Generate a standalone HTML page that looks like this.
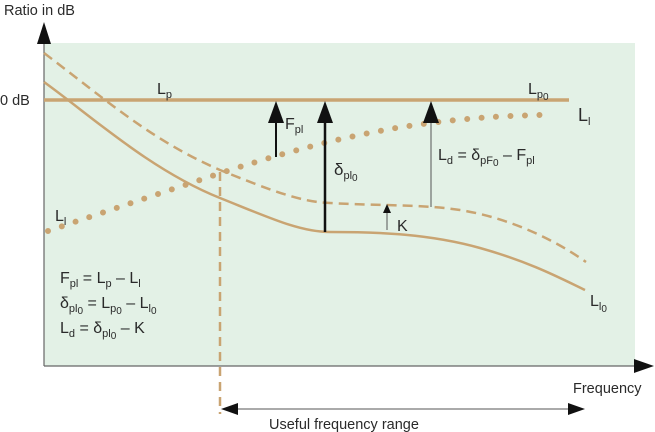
<!DOCTYPE html>
<html><head><meta charset="utf-8"><style>
html,body{margin:0;padding:0;background:#fff;}
svg{display:block;font-family:"Liberation Sans","DejaVu Sans",sans-serif;}
text{fill:#2a2a2a;}
</style></head><body>
<svg width="655" height="432" viewBox="0 0 655 432" xmlns="http://www.w3.org/2000/svg">
<rect x="44" y="43" width="591" height="323" fill="#e3f1e6"/>
<line x1="44" y1="30" x2="44" y2="366" stroke="#666" stroke-width="1.2"/>
<polygon points="44,22 37,44 51,44" fill="#111"/>
<line x1="44" y1="366" x2="636" y2="366" stroke="#666" stroke-width="1.2"/>
<polygon points="654,366 634,359 634,373" fill="#111"/>
<line x1="44" y1="100" x2="569" y2="100" stroke="#c9a472" stroke-width="3.5"/>
<path d="M44,82 C90,115 150,170 220,198 C270,218 300,232 330,232 C380,232 430,234 480,248 C530,262 560,278 585,290" fill="none" stroke="#c9a472" stroke-width="2.5"/>
<path d="M44,53 C100,95 150,140 220,170 C270,190 300,202 330,203 C380,206 420,204 460,210 C510,218 555,240 586,262" fill="none" stroke="#c9a472" stroke-width="2.5" stroke-dasharray="10,6"/>
<path d="M48,231 C110,210 170,190 230,170 C300,148 360,132 430,123 C470,118 500,116 540,115" fill="none" stroke="#c9a472" stroke-width="6" stroke-linecap="round" stroke-dasharray="0,14.5"/>
<line x1="220" y1="172" x2="220" y2="414" stroke="#c9a472" stroke-width="2.5" stroke-dasharray="9,6"/>
<line x1="276" y1="157" x2="276" y2="118" stroke="#111" stroke-width="2"/>
<polygon points="276,101 268,123 284,123" fill="#111"/>
<line x1="325" y1="232" x2="325" y2="118" stroke="#111" stroke-width="2.5"/>
<polygon points="325,101 317,123 333,123" fill="#111"/>
<line x1="431" y1="207" x2="431" y2="118" stroke="#555" stroke-width="1"/>
<polygon points="431,101 423,123 439,123" fill="#111"/>
<line x1="387" y1="230" x2="387" y2="210" stroke="#555" stroke-width="1"/>
<polygon points="387,204 383,213 391,213" fill="#111"/>
<line x1="230" y1="409" x2="575" y2="409" stroke="#555" stroke-width="1"/>
<polygon points="221,409 238,403 238,415" fill="#111"/>
<polygon points="585,409 568,403 568,415" fill="#111"/>
<text x="4" y="15" font-size="14.5">Ratio in dB</text>
<text x="0" y="105" font-size="14.5">0 dB</text>
<text x="157" y="94" font-size="16">L<tspan font-size="11" dy="4">p</tspan></text>
<text x="528" y="94" font-size="16">L<tspan font-size="11" dy="4">p</tspan><tspan font-size="10" dy="2">0</tspan></text>
<text x="578" y="121" font-size="18">L<tspan font-size="11" dy="4">l</tspan></text>
<text x="285" y="129" font-size="16">F<tspan font-size="11" dy="4">pl</tspan></text>
<text x="334" y="175" font-size="17">δ<tspan font-size="11" dy="4">pl</tspan><tspan font-size="10" dy="2">0</tspan></text>
<text x="438" y="160" font-size="16">L<tspan font-size="11" dy="4">d</tspan><tspan dy="-4"> = δ</tspan><tspan font-size="11" dy="4">pF</tspan><tspan font-size="10" dy="2">0</tspan><tspan dy="-6"> – F</tspan><tspan font-size="11" dy="4">pl</tspan></text>
<text x="397" y="231" font-size="16">K</text>
<text x="55" y="221" font-size="16">L<tspan font-size="11" dy="4">l</tspan></text>
<text x="590" y="306" font-size="16">L<tspan font-size="11" dy="4">l</tspan><tspan font-size="10" dy="2">0</tspan></text>
<text x="60" y="283" font-size="16">F<tspan font-size="11" dy="4">pl</tspan><tspan dy="-4"> = L</tspan><tspan font-size="11" dy="4">p</tspan><tspan dy="-4"> – L</tspan><tspan font-size="11" dy="4">l</tspan></text>
<text x="60" y="308" font-size="16">δ<tspan font-size="11" dy="4">pl</tspan><tspan font-size="10" dy="2">0</tspan><tspan dy="-6"> = L</tspan><tspan font-size="11" dy="4">p</tspan><tspan font-size="10" dy="2">0</tspan><tspan dy="-6"> – L</tspan><tspan font-size="11" dy="4">l</tspan><tspan font-size="10" dy="2">0</tspan></text>
<text x="60" y="333" font-size="16">L<tspan font-size="11" dy="4">d</tspan><tspan dy="-4"> = δ</tspan><tspan font-size="11" dy="4">pl</tspan><tspan font-size="10" dy="2">0</tspan><tspan dy="-6"> – K</tspan></text>
<text x="573" y="393" font-size="14.5">Frequency</text>
<text x="269" y="429" font-size="14.5">Useful frequency range</text>
</svg>
</body></html>
